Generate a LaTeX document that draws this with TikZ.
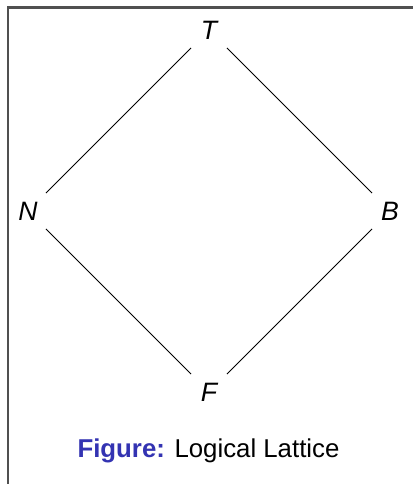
\documentclass[tikz,border=0pt]{standalone}
\usepackage{fontspec}
\setmainfont{Liberation Sans}
\definecolor{structblue}{RGB}{51,51,178}
\definecolor{framegray}{RGB}{80,80,80}
\begin{document}
\begin{tikzpicture}[x=0.5pt,y=-0.5pt,
  elem/.style={circle,minimum size=25pt,inner sep=0pt,font=\fontsize{13.3}{15}\selectfont\itshape},
  edge/.style={draw=black,line width=0.45pt},
  framebar/.style={fill=framegray,draw=none},
  caption/.style={inner sep=0pt,font=\fontsize{12.9}{15}\selectfont}]
\fill[white] (0,0) rectangle (413,484);
\useasboundingbox (0,0) rectangle (413,484);
\coordinate (c1) at (7,6);
\coordinate (c2) at (413,9);
\coordinate (c3) at (9.5,484);
\fill[framebar] (c1) rectangle (c2);
\fill[framebar] (c1) rectangle (c3);
\node[elem] (T) at (209,30) {T};
\node[elem] (N) at (28,211) {N};
\node[elem] (B) at (390,211) {B};
\node[elem] (F) at (209,392) {F};
\draw[edge] (T) -- (N);
\draw[edge] (T) -- (B);
\draw[edge] (N) -- (F);
\draw[edge] (B) -- (F);
\node[caption] (cap) at (208.5,451) {\textbf{\color{structblue}Figure:} Logical Lattice};
\end{tikzpicture}
\end{document}
